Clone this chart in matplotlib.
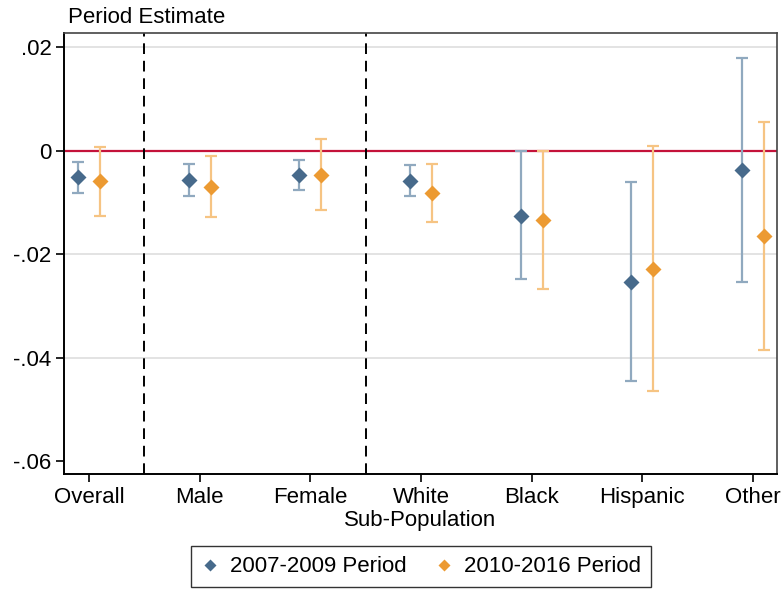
import numpy as np
import matplotlib.pyplot as plt

plt.rcParams['font.family'] = ['Liberation Sans', 'DejaVu Sans']

groups = ['Overall', 'Male', 'Female', 'White', 'Black', 'Hispanic', 'Other']

# 2007-2009 period: estimate, lower and upper CI
est_0709 = [-0.0050, -0.0056, -0.0046, -0.0058, -0.0125, -0.0253, -0.0037]
lo_0709 = [-0.0081, -0.0088, -0.0075, -0.0088, -0.0248, -0.0445, -0.0254]
hi_0709 = [-0.0021, -0.0025, -0.0017, -0.0027, -0.0001, -0.0061, 0.0180]

# 2010-2016 period
est_1016 = [-0.0059, -0.0069, -0.0046, -0.0081, -0.0134, -0.0229, -0.0165]
lo_1016 = [-0.0125, -0.0128, -0.0114, -0.0138, -0.0267, -0.0465, -0.0385]
hi_1016 = [0.0008, -0.0010, 0.0022, -0.0025, -0.0001, 0.0009, 0.0056]

navy = '#476a8b'
navy_ci = '#90a9bf'
orange = '#ec9a32'
orange_ci = '#f6c483'
fs = 16

x = np.arange(len(groups))
e1 = np.array(est_0709)
e2 = np.array(est_1016)
err1 = [e1 - np.array(lo_0709), np.array(hi_0709) - e1]
err2 = [e2 - np.array(lo_1016), np.array(hi_1016) - e2]

fig = plt.figure(figsize=(7.83, 5.89), dpi=100)
ax = fig.add_axes([0.0817, 0.1952, 0.9106, 0.7488])

for yv in [0.02, -0.02, -0.04]:
    ax.axhline(yv, color='#dedede', lw=1.2, zorder=0)
ax.axhline(0, color='#c4123a', lw=1.6, zorder=1)
for xv in [0.5, 2.5]:
    ax.axvline(xv, color='black', lw=1.4, ls=(0, (5.5, 3.5)), zorder=1)

ax.errorbar(x - 0.1, e1, yerr=err1, fmt='none', ecolor=navy_ci, elinewidth=1.6,
            capsize=4.5, capthick=1.6, zorder=2)
ax.errorbar(x + 0.1, e2, yerr=err2, fmt='none', ecolor=orange_ci, elinewidth=1.6,
            capsize=4.5, capthick=1.6, zorder=2)
ax.plot(x - 0.1, e1, 'D', color=navy, ms=7.8, mec='none', zorder=3,
        label='2007-2009 Period')
ax.plot(x + 0.1, e2, 'D', color=orange, ms=7.8, mec='none', zorder=3,
        label='2010-2016 Period')

ax.set_xlim(-0.226, 6.217)
ax.set_ylim(-0.0625, 0.0228)
ax.set_xticks(x)
ax.set_xticklabels(groups, fontsize=fs)
yt = [0.02, 0, -0.02, -0.04, -0.06]
ax.set_yticks(yt)
ax.set_yticklabels(['.02', '0', '-.02', '-.04', '-.06'], fontsize=fs)
ax.tick_params(axis='both', length=6, width=1.2, direction='out', pad=3)

for side in ['left', 'bottom']:
    ax.spines[side].set_linewidth(1.4)
    ax.spines[side].set_color('black')
for side in ['top', 'right']:
    ax.spines[side].set_linewidth(1.2)
    ax.spines[side].set_color('#444444')

ax.set_xlabel('Sub-Population', fontsize=fs, labelpad=2)
fig.text(0.087, 0.970, 'Period Estimate', fontsize=fs, ha='left', va='center')

leg = fig.legend(loc='center', bbox_to_anchor=(0.5377, 0.0374), ncol=2,
                 fontsize=fs, frameon=True, fancybox=False, edgecolor='black',
                 handlelength=0.8, handletextpad=0.5, columnspacing=1.3,
                 borderpad=0.45, borderaxespad=0, markerscale=0.72)
leg.get_frame().set_linewidth(1.0)

fig.savefig('out.png', dpi=100)
